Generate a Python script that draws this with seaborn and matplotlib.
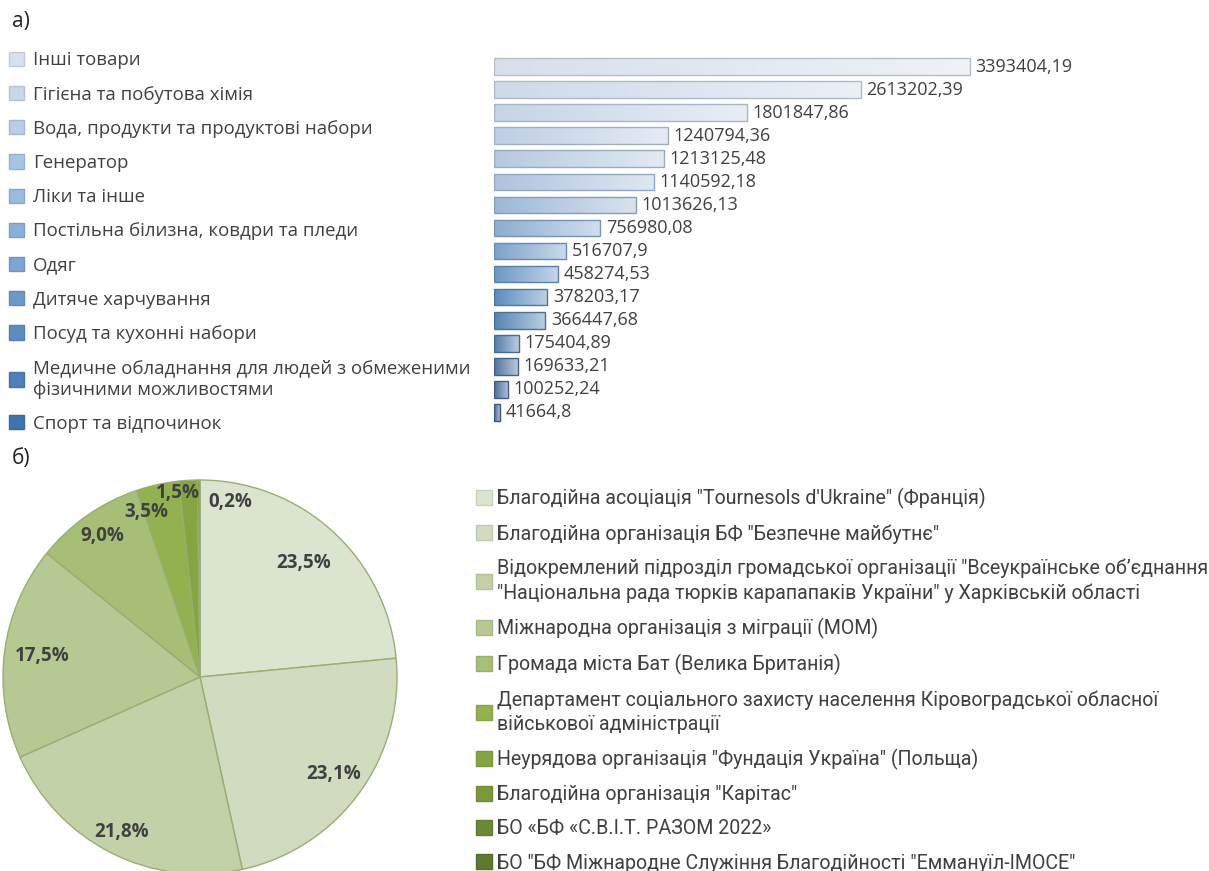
import matplotlib
matplotlib.use('Agg')
import matplotlib.pyplot as plt
import matplotlib.colors as mcolors
from matplotlib.patches import Patch
import numpy as np
import pandas as pd
import seaborn as sns

# а) value of goods received, sorted descending
bar_values = [3393404.19, 2613202.39, 1801847.86, 1240794.36, 1213125.48,
              1140592.18, 1013626.13, 756980.08, 516707.9, 458274.53,
              378203.17, 366447.68, 175404.89, 169633.21, 100252.24, 41664.8]

goods = ["Інші товари",
         "Гігієна та побутова хімія",
         "Вода, продукти та продуктові набори",
         "Генератор",
         "Ліки та інше",
         "Постільна білизна, ковдри та пледи",
         "Одяг",
         "Дитяче харчування",
         "Посуд та кухонні набори",
         "Медичне обладнання для людей з обмеженими\nфізичними можливостями",
         "Спорт та відпочинок"]

# б) shares of donors, %
pie_shares = [23.5, 23.1, 21.8, 17.5, 9.0, 3.5, 1.5, 0.2]

donors = ['Благодійна асоціація "Tournesols d\'Ukraine" (Франція)',
          'Благодійна організація БФ "Безпечне майбутнє"',
          'Відокремлений підрозділ громадської організації "Всеукраїнське об’єднання\n'
          '"Національна рада тюрків карапапаків України" у Харківській області',
          'Міжнародна організація з міграції (МОМ)',
          'Громада міста Бат (Велика Британія)',
          'Департамент соціального захисту населення Кіровоградської обласної\n'
          'військової адміністрації',
          'Неурядова організація "Фундація Україна" (Польща)',
          'Благодійна організація "Карітас"',
          'БО «БФ «С.В.І.Т. РАЗОМ 2022»',
          'БО "БФ Міжнародне Служіння Благодійності "Еммануїл-ІМОСЕ"']

green_colors = ['#dbe4cf', '#d0dbbf', '#c2d1a8', '#b6c993', '#a6be76',
                '#93b14e', '#86a542', '#7a993b', '#6b8a34', '#5e7830']

sns.set_theme(style='white')
plt.rcParams['font.family'] = ['Open Sans', 'DejaVu Sans']
text_col = '#404040'

W, H = 1209, 871
fig = plt.figure(figsize=(W / 100, H / 100), dpi=100)

fig.text(12 / W, 1 - 22 / H, 'а)', fontsize=15, color='#202020', va='center')
fig.text(12 / W, 1 - 458 / H, 'б)', fontsize=15, color='#202020', va='center')

# ---------- bars ----------
n = len(bar_values)
blue_pal = sns.blend_palette(['#d3dff0', '#a6c2e6', '#4a8bd0', '#3a6598'], n)
df = pd.DataFrame({'rank': [str(i) for i in range(n)], 'value': bar_values})

ax = fig.add_axes([494 / W, 1 - 424 / H, (W - 494) / W, (424 - 55) / H])
sns.barplot(data=df, x='value', y='rank', hue='rank', palette=blue_pal,
            legend=False, orient='h', width=0.72, ax=ax,
            edgecolor='#7f9fc8', linewidth=1.0)

# light gradient left->right inside each bar
for p in ax.patches:
    c = np.array(mcolors.to_rgb(p.get_facecolor()))
    light = c + (1 - c) * 0.6
    t = np.linspace(0, 1, 64)[None, :, None]
    grad = c * (1 - t) + light * t
    x0, y0 = p.get_x(), p.get_y()
    im = ax.imshow(grad, extent=[x0, x0 + p.get_width(), y0 + p.get_height(), y0],
                   aspect='auto', zorder=0.9, interpolation='bilinear')
    im.set_clip_path(p)
    p.set_facecolor('none')
    p.set_edgecolor(c * 0.85)

for p, v in zip(ax.patches, bar_values):
    ax.text(p.get_x() + p.get_width() + 0.012 * bar_values[0], p.get_y() + p.get_height() / 2,
            str(v).replace('.', ','), va='center', ha='left', fontsize=13, color=text_col)

ax.set_xlim(0, bar_values[0] * (W - 494) / 476)
ax.set_ylim(n - 0.5, -0.5)
ax.set_axis_off()

leg_blue = sns.blend_palette(['#d5e0f0', '#8cb0dc', '#3f74b0'], len(goods))
handles = [Patch(facecolor=c, edgecolor=mcolors.to_hex(np.array(mcolors.to_rgb(c)) * 0.9))
           for c in leg_blue]
fig.legend(handles, goods, loc='upper left', bbox_to_anchor=(2 / W, 1 - 44 / H),
           frameon=False, fontsize=13.4, labelcolor=text_col, handlelength=0.8,
           handleheight=0.8, handletextpad=0.45, labelspacing=0.87, borderaxespad=0)

# ---------- pie ----------
R = 197
pax = fig.add_axes([(200 - R) / W, 1 - (677 + R) / H, 2 * R / W, 2 * R / H])
wedges, _ = pax.pie(pie_shares, colors=green_colors[:len(pie_shares)], startangle=90,
                    counterclock=False, radius=1,
                    wedgeprops=dict(edgecolor='#9aad72', linewidth=1.0))
pax.set_xlim(-1, 1)
pax.set_ylim(-1, 1)
pax.set_aspect('equal')

label_r = [0.78, 0.84, 0.88, 0.81, 0.87, 0.88, 0.94, 0.90]
label_ang = {5: 108, 6: 97, 7: 80}
for i, (w, s) in enumerate(zip(wedges, pie_shares)):
    ang = np.deg2rad(label_ang.get(i, (w.theta1 + w.theta2) / 2))
    r = label_r[i]
    pax.text(r * np.cos(ang), r * np.sin(ang), f'{s:.1f}%'.replace('.', ','),
             ha='center', va='center', fontsize=13.5, fontweight='bold', color=text_col)

handles = [Patch(facecolor=c, edgecolor=mcolors.to_hex(np.array(mcolors.to_rgb(c)) * 0.92))
           for c in green_colors]
leg = fig.legend(handles, donors, loc='upper left', bbox_to_anchor=(468 / W, 1 - 480 / H),
                 frameon=False, labelcolor=text_col, handlelength=0.8,
                 handleheight=0.8, handletextpad=0.3, labelspacing=0.78, borderaxespad=0,
                 prop={'family': ['Roboto', 'DejaVu Sans'], 'size': 14.1})
for t in leg.get_texts():
    t.set_linespacing(1.3)

fig.savefig('out.png', dpi=100)
